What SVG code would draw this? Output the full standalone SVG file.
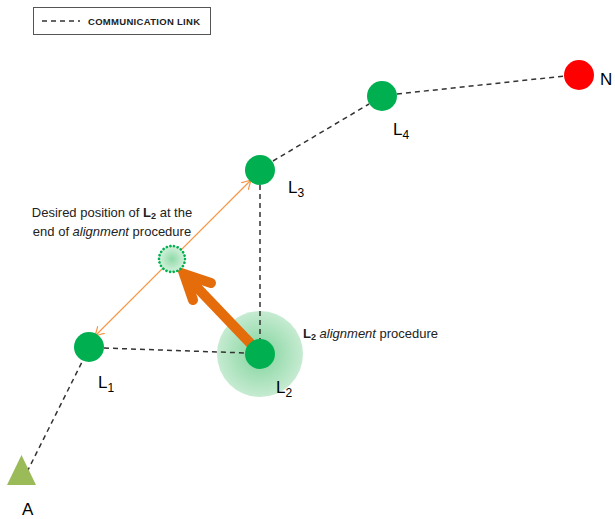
<svg xmlns="http://www.w3.org/2000/svg" width="615" height="519" viewBox="0 0 615 519">
<defs>
<style>
.lnk{stroke:#333;stroke-width:1.5;stroke-dasharray:5,4;fill:none}
.node{fill:#00B050}
.lbl{font-family:"Liberation Sans",Arial,sans-serif;font-size:17px;fill:#000}
.txt{font-family:"Liberation Sans",Arial,sans-serif;font-size:13px;fill:#222}
</style>
<radialGradient id="halo" cx="0.5" cy="0.5" r="0.5">
<stop offset="0" stop-color="#7fd39b"/>
<stop offset="1" stop-color="#c6ebd1"/>
</radialGradient>
<radialGradient id="ghost" cx="0.5" cy="0.5" r="0.5">
<stop offset="0" stop-color="#8fdaa8"/>
<stop offset="1" stop-color="#d4f1dc"/>
</radialGradient>
<marker id="oh" viewBox="0 0 10 10" refX="9" refY="5" markerWidth="10" markerHeight="10" markerUnits="userSpaceOnUse" orient="auto-start-reverse">
<path d="M0,0 L9,5 L0,10" fill="none" stroke="#F79646" stroke-width="1.2"/>
</marker>
</defs>
<g id="legend">
<rect x="33.5" y="7.5" width="177" height="27" fill="#fff" stroke="#555" stroke-width="1"/>
<line x1="42" y1="21" x2="80" y2="21" class="lnk" stroke-width="1.2" stroke-dasharray="4,3"/>
<text x="88" y="24.5" font-family="'Liberation Sans',Arial,sans-serif" font-size="9.5" font-weight="bold" fill="#222" letter-spacing="0.3">COMMUNICATION LINK</text>
</g>
<g id="halo-L2">
<circle cx="260" cy="354" r="43" fill="url(#halo)"/>
</g>
<g id="connectors">
<line x1="27" y1="472" x2="83" y2="360" class="lnk"/>
<line x1="104" y1="348" x2="246" y2="353" class="lnk"/>
<line x1="260" y1="185" x2="260" y2="340" class="lnk"/>
<line x1="273" y1="161" x2="369" y2="104" class="lnk"/>
<line x1="397" y1="94" x2="565" y2="76" class="lnk"/>
<line x1="95" y1="336" x2="251" y2="180" stroke="#F79646" stroke-width="1.2" marker-start="url(#oh)" marker-end="url(#oh)"/>
<path d="M251,344 L187,277" stroke="#E46C0A" stroke-width="10" fill="none"/>
<path d="M193,300 L184,274 L211,283" stroke="#E46C0A" stroke-width="10" fill="none" stroke-linejoin="miter" stroke-linecap="round"/>
</g>
<g id="ghost-L2">
<circle cx="172" cy="259" r="13" fill="url(#ghost)" stroke="#00B050" stroke-width="2.6" stroke-dasharray="0.1,3.6" stroke-linecap="round"/>
</g>
<g id="A"><polygon points="7,485 21.5,455 36,485" fill="#9BBB59"/><text x="22" y="515" class="lbl">A</text></g>
<g id="L1"><circle cx="89" cy="347" r="15" class="node"/><text x="98" y="388" class="lbl">L<tspan font-size="12" dy="4">1</tspan></text></g>
<g id="L2"><circle cx="260" cy="354" r="15" class="node"/><text x="276" y="393" class="lbl">L<tspan font-size="12" dy="4">2</tspan></text></g>
<g id="L3"><circle cx="260" cy="170" r="15" class="node"/><text x="288" y="193" class="lbl">L<tspan font-size="12" dy="4">3</tspan></text></g>
<g id="L4"><circle cx="382" cy="96" r="15" class="node"/><text x="393" y="135" class="lbl">L<tspan font-size="12" dy="4">4</tspan></text></g>
<g id="N"><circle cx="579" cy="75" r="15" fill="#FF0000"/><text x="600" y="85" class="lbl">N</text></g>
<g id="desired-label">
<text x="112" y="217" class="txt" text-anchor="middle">Desired position of <tspan font-weight="bold">L<tspan font-size="9" dy="2">2</tspan></tspan><tspan dy="-2"> at the</tspan></text>
<text x="112" y="236" class="txt" text-anchor="middle">end of <tspan font-style="italic">alignment</tspan> procedure</text>
</g>
<g id="align-label">
<text x="303" y="338" class="txt" font-size="12.5"><tspan font-weight="bold">L<tspan font-size="9" dy="2">2</tspan></tspan><tspan dy="-2" font-style="italic"> alignment</tspan> procedure</text>
</g>
</svg>
